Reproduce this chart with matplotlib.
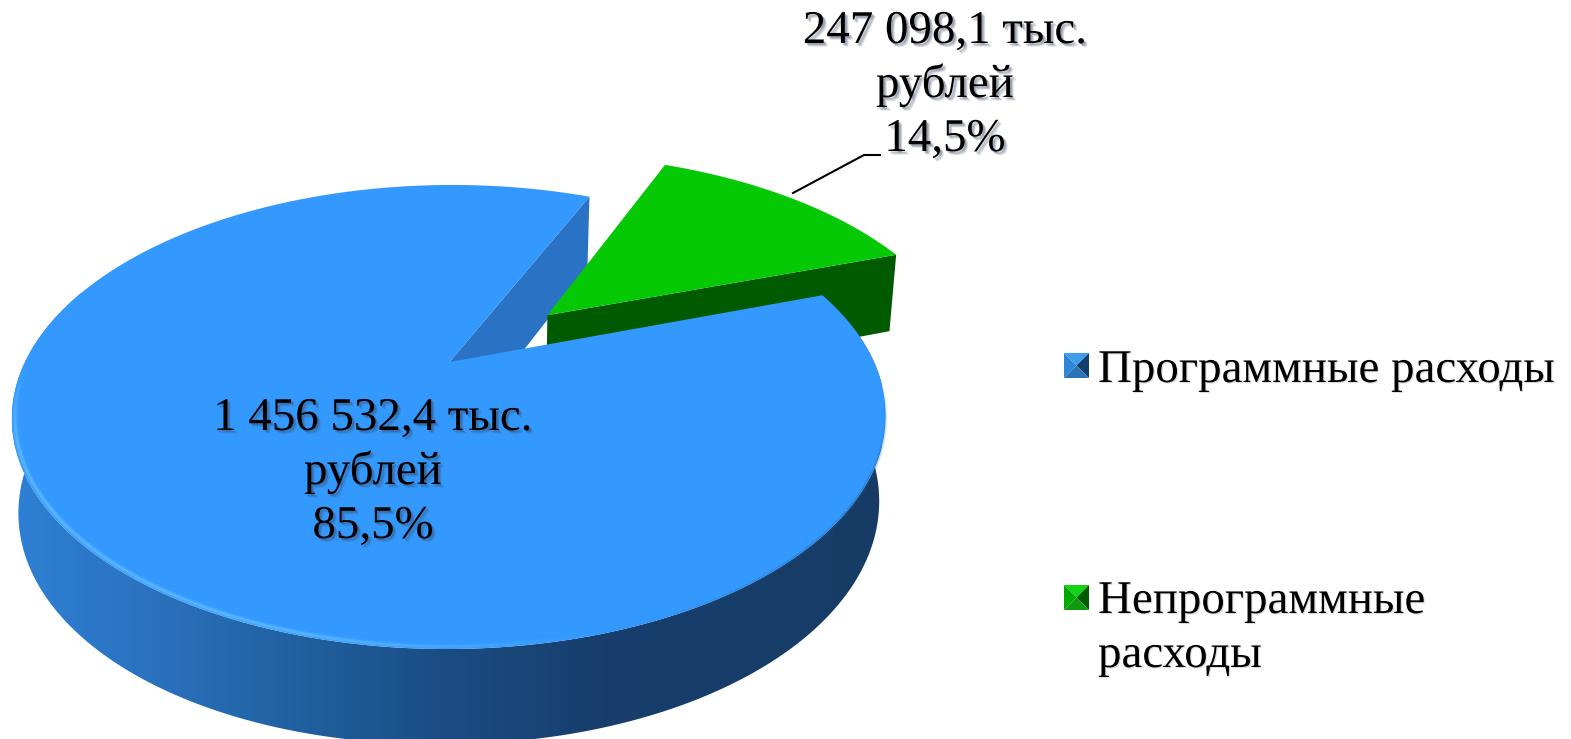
import numpy as np
import matplotlib
matplotlib.use("Agg")
import matplotlib.pyplot as plt
import matplotlib.patheffects as pe
from matplotlib.collections import LineCollection
from matplotlib.colors import LinearSegmentedColormap, to_rgb
from matplotlib.patches import Polygon

plt.rcParams["font.family"] = ["Liberation Serif", "DejaVu Serif"]

# data
values = [1456532.4, 247098.1]
blue_label = ["1 456 532,4 тыс.", "рублей", "85,5%"]
green_label = ["247 098,1 тыс.", "рублей", "14,5%"]
legend_labels = [["Программные расходы"], ["Непрограммные", "расходы"]]

BLUE = "#3399FF"
BLUE_INNER = "#2A73C4"
GREEN = "#05C905"
GREEN_WALL = "#005A00"
FS = 33.8

# projection of the pie plane onto the picture, in pixels
CX, CY = 449.5, 362
RX, RY = 424.5, 219
K = 0.237
SKEW = 3


def project(x, y, depth=0.0):
    """depth 0 is the top face, depth 1 the bottom face"""
    x, y = np.asarray(x, float), np.asarray(y, float)
    w = 1 + K * y
    px = CX + RX * x / w + SKEW * y
    py = CY - RY * y / w
    thick = 83 - 12 * y + 9 * np.clip(-x, 0, None)
    px = CX + (px - CX) * (1 - 0.015 * depth)
    return px, py + thick * depth


def rim(t0, t1, n=240, off=(0, 0), depth=0.0):
    t = np.radians(np.linspace(t0, t1, n))
    return project(np.cos(t) + off[0], np.sin(t) + off[1], depth)


def point(x, y, depth=0.0):
    a, b = project(x, y, depth)
    return np.atleast_1d(a), np.atleast_1d(b)


def stack(*parts):
    return np.column_stack([np.concatenate([p[0] for p in parts]),
                            np.concatenate([p[1] for p in parts])])


fig = plt.figure(figsize=(15.71, 7.39), dpi=100)
ax = fig.add_axes([0, 0, 1, 1])

shares = np.array(values) / sum(values) * 360
mid = 43.0
# the view squeezes the angles around the slice a little
squeeze = 2.9
g0 = mid - shares[1] / 2
g1 = mid + shares[1] / 2
g0 -= squeeze * np.sin(np.radians(2 * (g0 - mid)))
g1 -= squeeze * np.sin(np.radians(2 * (g1 - mid)))
ex = 0.33
off = (ex * np.cos(np.radians(mid)), ex * np.sin(np.radians(mid)))

# inner wall of the blue slice
inner = stack(point(0, 0), rim(g1, g1, 1), rim(g1, g1, 1, depth=1), point(0, 0, 1))
ax.add_patch(Polygon(inner, fc=BLUE_INNER, ec="none", zorder=2))

# green slice, wall then top
wall = stack(point(*off), rim(g0, g0, 1, off), rim(g0, g0, 1, off, 1), point(*off, 1))
ax.add_patch(Polygon(wall, fc=GREEN_WALL, ec="none", zorder=3))
top = stack(point(*off), rim(g0, g1, 80, off))
ax.add_patch(Polygon(top, fc=GREEN, ec="none", zorder=4))

# outer wall of the blue slice with its gradient
cmap = LinearSegmentedColormap.from_list("side", [
    (0.0, "#2E80D5"), (0.16, "#2A72BE"), (0.33, "#20609F"),
    (0.5, "#1A4C83"), (0.68, "#173E6C"), (1.0, "#163C66")])
side = stack(rim(g0, -200), rim(-200, g0, depth=1))
clip = Polygon(side, fc="none", ec="none", zorder=5)
ax.add_patch(clip)
im = ax.imshow(np.linspace(0, 1, 400)[None, :], extent=(12, 882, 739, 0), cmap=cmap,
               aspect="auto", zorder=5)
im.set_clip_path(clip)

# blue top face
btop = stack(point(0, 0), rim(g1, 360 + g0))
ax.add_patch(Polygon(btop, fc=BLUE, ec="none", zorder=6))


def rim_glow(t0, t1, color, lw, alpha, fade_in, fade_out, scale=0.993):
    t = np.linspace(t0, t1, 160)
    rx_, ry_ = project(scale * np.cos(np.radians(t)), scale * np.sin(np.radians(t)))
    pts = np.column_stack([rx_, ry_]).reshape(-1, 1, 2)
    segs = np.concatenate([pts[:-1], pts[1:]], axis=1)
    fade = np.clip(np.minimum((t[:-1] - t0) / fade_in, (t1 - t[:-1]) / fade_out), 0, 1)
    cols = np.zeros((len(segs), 4))
    cols[:, :3] = to_rgb(color)
    cols[:, 3] = fade * alpha
    ax.add_collection(LineCollection(segs, colors=cols, linewidths=lw, zorder=7))


# light bevel along the front rim, soft dark edge on the right
rim_glow(180, 285, "#5CB8FF", 4.0, 0.35, 20, 35)
rim_glow(180, 285, "#5CB8FF", 2.0, 0.8, 20, 35)
rim_glow(285, 355, "#1C5A9A", 2.5, 0.3, 30, 25, scale=1.0)

# leader line of the green label
ax.plot([793, 864, 880], [193, 155, 155], color="black", lw=1.5, zorder=8)

shadow = [pe.SimplePatchShadow(offset=(2.6, -2.6), shadow_rgbFace="#40506a", alpha=0.16),
          pe.SimplePatchShadow(offset=(2.0, -2.0), shadow_rgbFace="#40506a", alpha=0.2),
          pe.SimplePatchShadow(offset=(1.3, -1.3), shadow_rgbFace="#30405a", alpha=0.25),
          pe.Normal()]


def label(lines, x, baselines):
    for s, y in zip(lines, baselines):
        ax.text(x, y, s, ha="center", va="baseline", fontsize=FS, color="black",
                path_effects=shadow, zorder=9)


label(blue_label, 373, [430, 484, 538])
label(green_label, 945, [43, 97, 151])

# legend
legend_colors = [("#3F9EEC", "#2F86D6", "#123F6E", "#2A74B8"),
                 ("#12D412", "#00A800", "#005A00", "#109A10")]
legend_y = [353, 585]
legend_base = [[382], [613, 667]]
S = 25
for lines, (ct, cl, cr, cb_), y0, bases in zip(legend_labels, legend_colors, legend_y, legend_base):
    x0 = 1064
    mx, my = x0 + S / 2, y0 + S / 2
    ax.add_patch(Polygon([(x0, y0), (x0 + S, y0), (mx, my)], fc=ct, ec="none", zorder=3))
    ax.add_patch(Polygon([(x0, y0), (x0, y0 + S), (mx, my)], fc=cl, ec="none", zorder=3))
    ax.add_patch(Polygon([(x0 + S, y0), (x0 + S, y0 + S), (mx, my)], fc=cr, ec="none", zorder=3))
    ax.add_patch(Polygon([(x0, y0 + S), (x0 + S, y0 + S), (mx, my)], fc=cb_, ec="none", zorder=3))
    for s, b in zip(lines, bases):
        ax.text(1098, b, s, ha="left", va="baseline", fontsize=FS, color="black",
                path_effects=[pe.SimplePatchShadow(offset=(0.8, -0.8), shadow_rgbFace="#888888", alpha=0.3),
                              pe.Normal()], zorder=9)

ax.set_xlim(0, 1571)
ax.set_ylim(739, 0)
ax.axis("off")
fig.savefig("out.png", dpi=100, facecolor="white")
